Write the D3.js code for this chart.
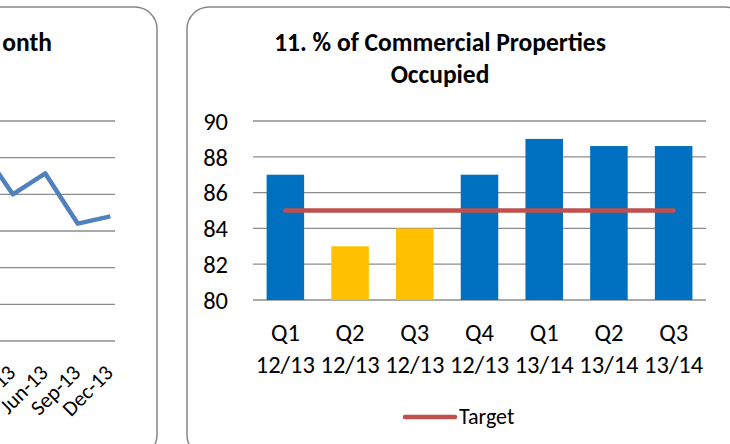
<!DOCTYPE html>
<html lang="en">
<head>
  <meta charset="UTF-8">
  <title>% of Commercial Properties Occupied</title>
  <script src="https://d3js.org/d3.v7.min.js"></script>
  <style>
    body { margin: 0; padding: 0; background: #fff; }
    svg { display: block; font-family: Carlito, Calibri, Lato, sans-serif; }
    .panel { fill: #fff; stroke: #868686; stroke-width: 1.5; }
    .grid line { stroke: #8c8c8c; stroke-width: 1.3; }
    .ttl { font-weight: bold; font-size: 25.5px; fill: #000; }
    .lbl { font-size: 24.5px; fill: #000; }
  </style>
</head>
<body>
<svg id="chart" width="730" height="444"></svg>
<script>
// left chart (mostly cut off) - monthly line
const leftMonths = ["Dec-12", "Mar-13", "Jun-13", "Sep-13", "Dec-13"];
const leftValues = [53, 40, 45.7, 32, 34];
const leftTicks = [0, 10, 20, 30, 40, 50, 60];

// right chart - quarterly occupancy
const quarters = [["Q1", "12/13"], ["Q2", "12/13"], ["Q3", "12/13"], ["Q4", "12/13"],
                  ["Q1", "13/14"], ["Q2", "13/14"], ["Q3", "13/14"]];
const occupied = [87, 83, 84, 87, 89, 88.6, 88.6];
const barColors = ["#0070C0", "#FFC000", "#FFC000", "#0070C0", "#0070C0", "#0070C0", "#0070C0"];
const target = [85, 85, 85, 85, 85, 85, 85];
const yTicks = [80, 82, 84, 86, 88, 90];

const svg = d3.select("#chart");

// panels
svg.append("rect").attr("class", "panel")
  .attr("x", -400).attr("y", 7).attr("width", 557).attr("height", 450).attr("rx", 22);
svg.append("rect").attr("class", "panel")
  .attr("x", 187).attr("y", 7).attr("width", 560).attr("height", 450).attr("rx", 22);

// ---------- left chart ----------
const L = svg.append("g");
const lx = d3.scalePoint().domain(leftMonths).range([-19.7, 110.3]);
const ly = d3.scaleLinear().domain([0, 60]).range([341, 121]);

L.append("text").attr("class", "ttl")
  .attr("x", 52).attr("y", 51).attr("text-anchor", "end").text("onth");

L.append("g").attr("class", "grid")
  .selectAll("line").data(leftTicks).join("line")
  .attr("x1", -300).attr("x2", 115)
  .attr("y1", d => ly(d)).attr("y2", d => ly(d));

L.append("path")
  .datum(leftValues)
  .attr("fill", "none").attr("stroke", "#4F81BD").attr("stroke-width", 4.5)
  .attr("stroke-linejoin", "round")
  .attr("d", d3.line().x((d, i) => lx(leftMonths[i])).y(d => ly(d)));

L.selectAll(".mlbl").data(leftMonths).join("text")
  .attr("class", "lbl mlbl")
  .style("font-size", "21.5px")
  .attr("text-anchor", "end")
  .attr("transform", d => `translate(${lx(d) + 4},${374}) rotate(-45)`)
  .text(d => d);

// ---------- right chart ----------
const R = svg.append("g");
const x = d3.scaleBand().domain(d3.range(quarters.length)).range([253, 706]).paddingInner(0.42).paddingOuter(0.21);
const y = d3.scaleLinear().domain([80, 90]).range([300, 121]);

R.append("text").attr("class", "ttl").attr("text-anchor", "middle")
  .selectAll("tspan").data(["11. % of Commercial Properties", "Occupied"]).join("tspan")
  .attr("x", 440).attr("y", (d, i) => 51 + i * 32).text(d => d);

R.append("g").attr("class", "grid")
  .selectAll("line").data(yTicks).join("line")
  .attr("x1", 253).attr("x2", 706)
  .attr("y1", d => y(d)).attr("y2", d => y(d));

R.selectAll(".ytk").data(yTicks).join("text")
  .attr("class", "lbl ytk")
  .attr("x", 228).attr("y", d => y(d)).attr("dy", "0.36em")
  .attr("text-anchor", "end").text(d => d);

R.selectAll(".bar").data(occupied).join("rect")
  .attr("class", "bar")
  .attr("x", (d, i) => x(i)).attr("width", x.bandwidth())
  .attr("y", d => y(d)).attr("height", d => y(80) - y(d))
  .attr("fill", (d, i) => barColors[i]);

R.append("path")
  .datum(target)
  .attr("fill", "none").attr("stroke", "#C0504D").attr("stroke-width", 4.5)
  .attr("stroke-linecap", "round")
  .attr("d", d3.line().x((d, i) => x(i) + x.bandwidth() / 2).y(d => y(d)));

const xl = R.selectAll(".xtk").data(quarters).join("text")
  .attr("class", "lbl xtk").attr("text-anchor", "middle");
xl.selectAll("tspan").data((d, i) => d.map(t => ({ t, i }))).join("tspan")
  .attr("x", d => x(d.i) + x.bandwidth() / 2)
  .attr("y", (d, j) => 341 + j * 31.5)
  .text(d => d.t);

// legend
R.append("line")
  .attr("x1", 405).attr("x2", 455).attr("y1", 417).attr("y2", 417)
  .attr("stroke", "#C0504D").attr("stroke-width", 4.5).attr("stroke-linecap", "round");
R.append("text").attr("class", "lbl")
  .attr("x", 459).attr("y", 424).style("font-size", "22px").text("Target");
</script>
</body>
</html>
